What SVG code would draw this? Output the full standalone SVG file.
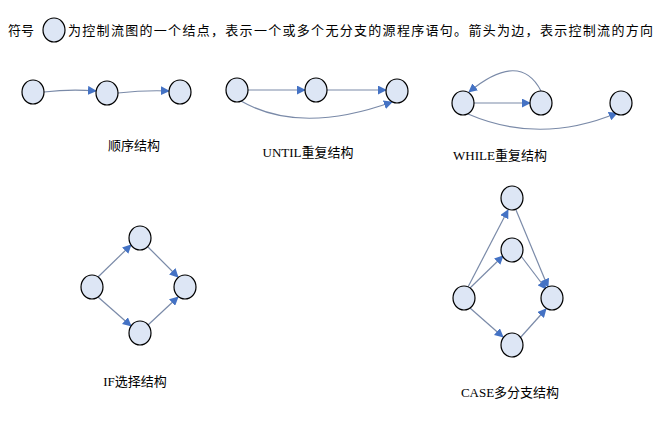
<svg xmlns="http://www.w3.org/2000/svg" width="669" height="427" viewBox="0 0 669 427">
<style>
.n{fill:#dde6f5;stroke:#000;stroke-width:1.2}
.e{fill:none;stroke:#7a8aa8;stroke-width:1.2;marker-end:url(#a)}
text{font-family:"Liberation Serif","Noto Sans CJK SC",serif;font-size:13px;fill:#000}
</style>
<defs><marker id="a" viewBox="0 0 10 10" refX="9" refY="5" markerWidth="9" markerHeight="9" markerUnits="userSpaceOnUse" orient="auto"><path d="M0,0L10,5L0,10z" fill="#4472c4"/></marker></defs>
<rect width="669" height="427" fill="#fff"/>
<text x="8" y="35">符号</text>
<g id="sym"><ellipse class="n" cx="54" cy="30" rx="11" ry="12"/></g>
<text x="68" y="35" textLength="585">为控制流图的一个结点，表示一个或多个无分支的源程序语句。箭头为边，表示控制流的方向</text>
<g id="conn">
<path class="e" d="M44,92 Q70,89 96,91"/>
<path class="e" d="M118,93 Q145,90 169,91"/>
<path class="e" d="M248,90 L305,90"/>
<path class="e" d="M327,90 L386,90"/>
<path class="e" d="M241,101 Q300,135 392,102"/>
<path class="e" d="M474,103 L530,103"/>
<path class="e" d="M541,91 Q520,50 469,92"/>
<path class="e" d="M468,114 Q540,145 617,113"/>
<path class="e" d="M98,277 L131,245"/>
<path class="e" d="M98,297 L131,326"/>
<path class="e" d="M148,247 L178,277"/>
<path class="e" d="M148,325 L178,297"/>
<path class="e" d="M468,287 L508,210"/>
<path class="e" d="M470,288 L503,256"/>
<path class="e" d="M470,308 L503,337"/>
<path class="e" d="M516,210 L548,287"/>
<path class="e" d="M521,256 L546,289"/>
<path class="e" d="M520,338 L546,309"/>
</g>
<g id="s1"><ellipse class="n" cx="33" cy="92" rx="11" ry="12"/></g>
<g id="s2"><ellipse class="n" cx="107" cy="93" rx="11" ry="12"/></g>
<g id="s3"><ellipse class="n" cx="180" cy="92" rx="11" ry="12"/></g>
<g id="u1"><ellipse class="n" cx="237" cy="90" rx="11" ry="12"/></g>
<g id="u2"><ellipse class="n" cx="316" cy="90" rx="11" ry="12"/></g>
<g id="u3"><ellipse class="n" cx="397" cy="91" rx="11" ry="12"/></g>
<g id="w1"><ellipse class="n" cx="463" cy="103" rx="11" ry="12"/></g>
<g id="w2"><ellipse class="n" cx="541" cy="103" rx="11" ry="12"/></g>
<g id="w3"><ellipse class="n" cx="621" cy="103" rx="11" ry="12"/></g>
<g id="i1"><ellipse class="n" cx="92" cy="287" rx="11" ry="12"/></g>
<g id="i2"><ellipse class="n" cx="140" cy="238" rx="11" ry="12"/></g>
<g id="i3"><ellipse class="n" cx="185" cy="287" rx="11" ry="12"/></g>
<g id="i4"><ellipse class="n" cx="140" cy="333" rx="11" ry="12"/></g>
<g id="c1"><ellipse class="n" cx="512" cy="198" rx="11" ry="12"/></g>
<g id="c2"><ellipse class="n" cx="512" cy="250" rx="11" ry="12"/></g>
<g id="c3"><ellipse class="n" cx="464" cy="298" rx="11" ry="12"/></g>
<g id="c4"><ellipse class="n" cx="552" cy="298" rx="11" ry="12"/></g>
<g id="c5"><ellipse class="n" cx="512" cy="345" rx="11" ry="12"/></g>
<text x="134" y="150" text-anchor="middle">顺序结构</text>
<text x="308" y="157" text-anchor="middle">UNTIL重复结构</text>
<text x="500" y="160" text-anchor="middle">WHILE重复结构</text>
<text x="135" y="386" text-anchor="middle">IF选择结构</text>
<text x="510" y="397" text-anchor="middle">CASE多分支结构</text>
</svg>
